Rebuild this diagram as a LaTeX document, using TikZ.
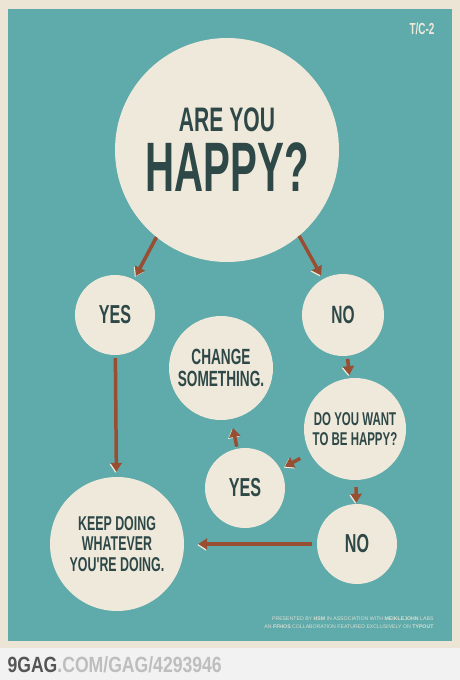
\documentclass[tikz,border=0pt]{standalone}
\usepackage{fontspec}
\usetikzlibrary{arrows.meta}
\setmainfont{Liberation Sans}
\newfontfamily\condfont[FakeStretch=0.62]{Liberation Sans}
\newfontfamily\bigfont[FakeStretch=0.575]{Liberation Sans}
\newfontfamily\gagfont[FakeStretch=0.8]{Liberation Sans}
\definecolor{paper}{RGB}{236,229,213}
\definecolor{poster}{RGB}{95,170,170}
\definecolor{cream}{RGB}{239,233,219}
\definecolor{ink}{RGB}{46,72,72}
\definecolor{rust}{RGB}{152,78,50}
\definecolor{strip}{RGB}{242,242,242}
\definecolor{gagdark}{RGB}{85,85,85}
\definecolor{gaglight}{RGB}{190,190,190}
\tikzset{
  bubble/.style={circle, fill=cream, inner sep=0pt, text=ink, align=center},
  flow/.style={draw=rust, line width=3.5pt, -{Triangle[width=11pt,length=9pt]},
    preaction={draw=cream, transform canvas={xshift=-1pt,yshift=-1pt}}}
}
\begin{document}
\begin{tikzpicture}[x=1pt,y=-1pt]
            %poster
            \fill[strip] (0,0) rectangle (460,680);

            \fill[paper] (0,0) rectangle (460,648);

            \fill[poster] (8,9) rectangle (452,641);

            \node[text=cream, font=\condfont\bfseries\fontsize{16}{16}\selectfont] (tag) at (422,29) {T/C-2};

            %bubbles
            \node[bubble, minimum size=224pt] (happy) at (227,150) {\condfont\bfseries\fontsize{34}{34}\selectfont ARE YOU\\[10pt]\bigfont\bfseries\fontsize{70}{60}\selectfont HAPPY?};

            \node[bubble, minimum size=80pt, font=\condfont\bfseries\fontsize{26}{26}\selectfont] (yesL) at (115,315) {YES};

            \node[bubble, minimum size=82pt, font=\condfont\bfseries\fontsize{25}{25}\selectfont] (noR) at (343,315) {NO};

            \node[bubble, minimum size=104pt, font=\condfont\bfseries\fontsize{22}{22}\selectfont] (change) at (221,368) {CHANGE\\SOMETHING.};

            \node[bubble, minimum size=102pt, font=\condfont\bfseries\fontsize{18.5}{20}\selectfont] (want) at (355,429) {DO YOU WANT\\TO BE HAPPY?};

            \node[bubble, minimum size=80pt, font=\condfont\bfseries\fontsize{26}{26}\selectfont] (yesM) at (245,488) {YES};

            \node[bubble, minimum size=80pt, font=\condfont\bfseries\fontsize{26}{26}\selectfont] (noB) at (357,544) {NO};

            \node[bubble, minimum size=134pt, font=\condfont\bfseries\fontsize{20}{20.5}\selectfont] (keep) at (117,544) {KEEP DOING\\WHATEVER\\YOU'RE DOING.};

            %arrows
            \draw[flow, shorten >=4pt] (happy.231) -- (yesL);

            \draw[flow, shorten >=4pt] (happy.310) -- (noR);

            \draw[flow, shorten <=3pt, shorten >=3pt] (noR) -- (want);

            \draw[flow, shorten <=7pt, shorten >=1pt] (want) -- (noB);

            \draw[flow, shorten <=11pt, shorten >=5pt] (want) -- (yesM);

            \draw[flow, shorten <=2pt, shorten >=9pt] (yesM) -- (change);

            \draw[flow, shorten <=3pt, shorten >=5pt] (yesL) -- (keep);

            \draw[flow, shorten <=5pt, shorten >=14pt] (noB) -- (keep);

            %credits
            \node[anchor=east, align=right, text=cream!85!poster, font=\fontsize{5.2}{8}\selectfont] (credits) at (437,623) {PRESENTED BY \textbf{HSM} IN ASSOCIATION WITH \textbf{MEIKLEJOHN} LABS\\AN \textbf{FFHOS} COLLABORATION FEATURED EXCLUSIVELY ON \textbf{TYPOUT}};

            \node[anchor=west, font=\gagfont\bfseries\fontsize{22}{22}\selectfont] (gag) at (4,665) {\textcolor{gagdark}{9GAG}\textcolor{gaglight}{.COM/GAG/4293946}};
\end{tikzpicture}
\end{document}
